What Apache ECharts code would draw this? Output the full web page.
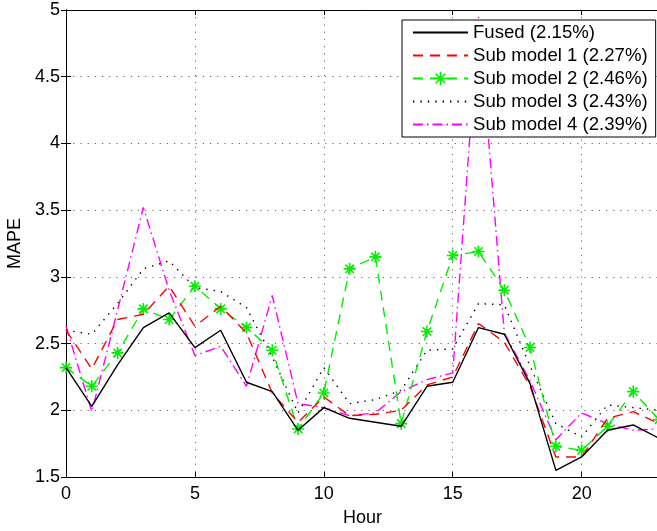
<!DOCTYPE html>
<html>
<head>
<meta charset="utf-8">
<script src="https://cdn.jsdelivr.net/npm/echarts@6/dist/echarts.min.js"></script>
<style>
  html, body { margin: 0; padding: 0; background: #fff; }
</style>
</head>
<body>
<div id="mapeChart" style="width: 657px; height: 531px"></div>
<script>
// 数据
const hours = [0, 1, 2, 3, 4, 5, 6, 7, 8, 9, 10, 11, 12, 13, 14, 15, 16, 17, 18, 19, 20, 21, 22, 23]
const fused = [2.32, 2.03, 2.34, 2.62, 2.73, 2.47, 2.60, 2.21, 2.14, 1.85, 2.02, 1.94, 1.91, 1.88, 2.18, 2.21, 2.62, 2.57, 2.20, 1.55, 1.65, 1.85, 1.89, 1.79]
const sub1 = [2.60, 2.31, 2.68, 2.72, 2.93, 2.63, 2.78, 2.58, 2.13, 1.91, 2.10, 1.96, 1.97, 2.00, 2.19, 2.25, 2.65, 2.51, 2.18, 1.65, 1.65, 1.94, 1.99, 1.90]
const sub2 = [2.32, 2.18, 2.43, 2.76, 2.68, 2.93, 2.76, 2.62, 2.45, 1.86, 2.13, 3.06, 3.15, 1.90, 2.59, 3.16, 3.19, 2.90, 2.47, 1.73, 1.70, 1.88, 2.14, 1.93]
const sub3 = [2.60, 2.57, 2.80, 3.06, 3.12, 2.92, 2.89, 2.77, 2.40, 1.98, 2.32, 2.05, 2.08, 2.15, 2.45, 2.46, 2.80, 2.79, 2.33, 1.90, 1.80, 2.04, 2.02, 2.00]
const sub4 = [2.63, 1.99, 2.75, 3.52, 2.90, 2.41, 2.48, 2.18, 2.86, 2.05, 2.02, 1.96, 1.98, 2.14, 2.23, 2.28, 4.95, 2.58, 2.22, 1.78, 1.98, 1.90, 1.85, 1.86]
const names = ['Fused (2.15%)', 'Sub model 1 (2.27%)', 'Sub model 2 (2.46%)', 'Sub model 3 (2.43%)', 'Sub model 4 (2.39%)']

const font = 'Liberation Sans, Arial, sans-serif'
const toPairs = (vals) => hours.map((h, i) => [h, vals[i]])
// asterisk marker
const star = 'path://M0,-6L0,6M-6,0L6,0M-4.2,-4.2L4.2,4.2M-4.2,4.2L4.2,-4.2'
const starStyle = { color: 'none', borderColor: '#00ee00', borderWidth: 1.6 }

const gridDots = { color: '#666', width: 1, type: [1.2, 6] }

const option = {
    animation: false,
    // x = 23 sits just past the right edge, as in the original figure
    grid: { left: 66, top: 10, width: 593, bottom: 54, outerBoundsMode: 'none', containLabel: false },
    legend: {
        orient: 'vertical',
        left: 402,
        top: 20,
        padding: [3, 8, 3, 10],
        itemGap: 4,
        itemWidth: 55,
        itemHeight: 17,
        borderColor: '#000',
        borderWidth: 1,
        backgroundColor: '#fff',
        // 只保留线型，不画圆点
        itemStyle: { opacity: 0 },
        textStyle: { fontFamily: font, fontSize: 18.6, lineHeight: 18, color: '#000' },
        data: [
            names[0],
            names[1],
            { name: names[2], itemStyle: Object.assign({ opacity: 1 }, starStyle) },
            names[3],
            names[4]
        ]
    },
    xAxis: [
        {
            type: 'value',
            min: 0,
            max: 23,
            interval: 5,
            name: 'Hour',
            nameLocation: 'middle',
            nameGap: 32,
            nameTextStyle: { fontFamily: font, fontSize: 18, color: '#000' },
            axisLine: { lineStyle: { color: '#000', width: 1 } },
            axisTick: { inside: true, length: 5, lineStyle: { color: '#000' } },
            axisLabel: {
                fontFamily: font, fontSize: 18, color: '#000', margin: 8,
                formatter: v => (v % 5 === 0 ? String(v) : '')
            },
            splitLine: { show: true, lineStyle: gridDots }
        },
        {
            type: 'value',
            position: 'top',
            min: 0,
            max: 23,
            interval: 5,
            axisLine: { lineStyle: { color: '#000', width: 1 } },
            axisTick: { inside: true, length: 5, lineStyle: { color: '#000' } },
            axisLabel: { show: false },
            splitLine: { show: false }
        }
    ],
    yAxis: [
        {
            type: 'value',
            min: 1.5,
            max: 5,
            interval: 0.5,
            name: 'MAPE',
            nameLocation: 'middle',
            nameGap: 41,
            nameTextStyle: { fontFamily: font, fontSize: 18, color: '#000' },
            axisLine: { show: true, lineStyle: { color: '#000', width: 1 } },
            axisTick: { show: true, inside: true, length: 5, lineStyle: { color: '#000' } },
            axisLabel: { fontFamily: font, fontSize: 18, color: '#000', margin: 6 },
            splitLine: { show: true, lineStyle: gridDots }
        },
        {
            type: 'value',
            position: 'right',
            min: 1.5,
            max: 5,
            interval: 0.5,
            axisLine: { show: true, lineStyle: { color: '#000', width: 1 } },
            axisTick: { show: true, inside: true, length: 5, lineStyle: { color: '#000' } },
            axisLabel: { show: false },
            splitLine: { show: false }
        }
    ],
    series: [
        {
            name: names[0],
            type: 'line',
            symbol: 'none',
            lineStyle: { color: '#000', width: 1.4, type: 'solid' },
            itemStyle: { color: '#000' },
            data: toPairs(fused),
            z: 6
        },
        {
            name: names[1],
            type: 'line',
            symbol: 'none',
            lineStyle: { color: '#ff0000', width: 1.4, type: [10, 7] },
            itemStyle: { color: '#ff0000' },
            data: toPairs(sub1),
            z: 5
        },
        {
            name: names[2],
            type: 'line',
            symbol: star,
            symbolSize: 12,
            showAllSymbol: true,
            lineStyle: { color: '#00ee00', width: 1.4, type: [10, 7] },
            itemStyle: starStyle,
            data: toPairs(sub2),
            z: 4
        },
        {
            name: names[3],
            type: 'line',
            symbol: 'none',
            lineStyle: { color: '#000', width: 1.4, type: [1.4, 6] },
            itemStyle: { color: '#000' },
            data: toPairs(sub3),
            z: 3
        },
        {
            name: names[4],
            type: 'line',
            symbol: 'none',
            lineStyle: { color: '#ff00ff', width: 1.4, type: [10, 4, 1.5, 4] },
            itemStyle: { color: '#ff00ff' },
            data: toPairs(sub4),
            z: 2
        }
    ]
}

var myChart = echarts.init(document.getElementById('mapeChart'))
myChart.setOption(option)
</script>
</body>
</html>
